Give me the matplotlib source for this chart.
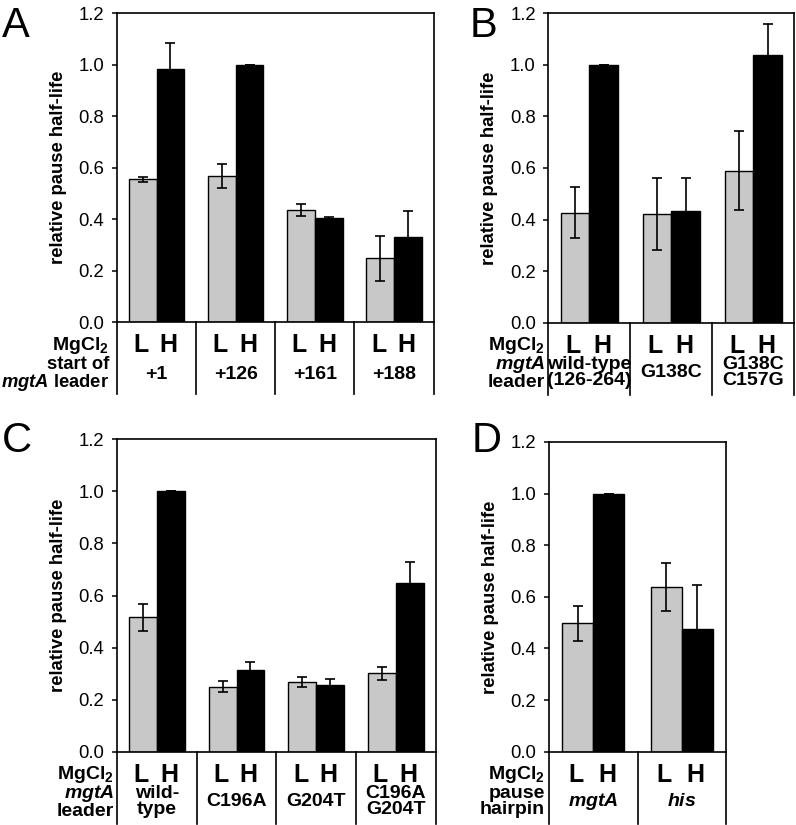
import matplotlib
matplotlib.use("Agg")
from matplotlib import pyplot as plt
import matplotlib.transforms as mtransforms
import numpy as np

plt.rcParams['font.family'] = ['Liberation Sans', 'DejaVu Sans']
plt.rcParams['mathtext.fontset'] = 'custom'
plt.rcParams['mathtext.rm'] = 'Liberation Sans'
plt.rcParams['mathtext.it'] = 'Liberation Sans:italic'
plt.rcParams['mathtext.bf'] = 'Liberation Sans:bold'
plt.rcParams['mathtext.bfit'] = 'Liberation Sans:bold:italic'

# panel A
a_groups = ["+1", "+126", "+161", "+188"]
a_low = [0.555, 0.568, 0.437, 0.248]
a_low_err = [0.011, 0.047, 0.024, 0.086]
a_high = [0.984, 1.0, 0.406, 0.333]
a_high_err = [0.102, 0.0, 0.003, 0.100]

# panel B
b_groups = ["wild-type\n(126-264)", "G138C", "G138C\nC157G"]
b_low = [0.427, 0.422, 0.589]
b_low_err = [0.098, 0.140, 0.153]
b_high = [1.0, 0.432, 1.039]
b_high_err = [0.0, 0.129, 0.119]

# panel C
c_groups = ["wild-\ntype", "C196A", "G204T", "C196A\nG204T"]
c_low = [0.516, 0.250, 0.269, 0.301]
c_low_err = [0.052, 0.022, 0.019, 0.026]
c_high = [1.0, 0.313, 0.257, 0.649]
c_high_err = [0.0, 0.033, 0.023, 0.081]

# panel D
d_groups = [r"$\mathbfit{mgtA}$", r"$\mathbfit{his}$"]
d_low = [0.497, 0.639]
d_low_err = [0.068, 0.093]
d_high = [1.0, 0.477]
d_high_err = [0.0, 0.169]

yticks = [0.0, 0.2, 0.4, 0.6, 0.8, 1.0, 1.2]

W, H = 796, 825
fig = plt.figure(figsize=(W / 100, H / 100), dpi=100)


def px_axes(left, top, right, bottom):
    return fig.add_axes([left / W, 1 - bottom / H, (right - left) / W, (bottom - top) / H])


def panel(ax, groups, low, low_err, high, high_err, row_label, lab_off_px, r2_px,
          row_fs=14):
    n = len(groups)
    x = np.arange(n)
    w = 0.35
    ekw = dict(ecolor='black', elinewidth=1.2, capsize=3.6, capthick=1.2)
    ax.bar(x - w / 2, low, w, yerr=low_err, color='#c8c8c8', edgecolor='black',
           linewidth=1.0, error_kw=ekw, zorder=2)
    ax.bar(x + w / 2, high, w, yerr=high_err, color='black', edgecolor='black',
           linewidth=1.0, error_kw=ekw, zorder=2)
    ax.set_xlim(-0.5, n - 0.5)
    ax.set_ylim(0, 1.2)
    ax.set_yticks(yticks)
    ax.set_yticklabels(["%.1f" % t for t in yticks], fontsize=13.3)
    ax.set_xticks([])
    ax.tick_params(axis='y', direction='out', length=3.6, width=1.1, pad=5.5)
    for s in ax.spines.values():
        s.set_linewidth(1.2)
    ax.set_ylabel("relative pause half-life", fontsize=13.3, fontweight='bold')
    bb = ax.get_position()
    wpx = bb.width * W
    hpx = bb.height * H
    ax.yaxis.set_label_coords(-50 / wpx, 0.5)

    trans = mtransforms.blended_transform_factory(ax.transData, ax.transAxes)
    r1 = -23 / hpx
    r2 = -r2_px / hpx
    # separators for the label table
    for b in np.arange(n + 1) - 0.5:
        ax.plot([b, b], [0, -72 / hpx], color='black', lw=1.2, transform=trans,
                clip_on=False)
    for i in range(n):
        ax.text(i - w / 2 - 0.02, r1, "L", transform=trans, ha='center', va='center',
                fontsize=18, fontweight='bold')
        ax.text(i + w / 2 - 0.02, r1, "H", transform=trans, ha='center', va='center',
                fontsize=18, fontweight='bold')
        ax.text(i, r2, groups[i], transform=trans, ha='center', va='center',
                fontsize=14, fontweight='bold', linespacing=0.9)
    lx = -lab_off_px / wpx
    ax.text(lx, r1, r"MgCl$_\mathbf{2}$", transform=ax.transAxes, ha='right',
            va='center', fontsize=14, fontweight='bold')
    ax.text(lx, r2, row_label, transform=ax.transAxes, ha='right',
            va='center', fontsize=row_fs, fontweight='bold', linespacing=0.9)


axA = px_axes(117, 13.3, 433.5, 322.3)
panel(axA, a_groups, a_low, a_low_err, a_high, a_high_err,
      "start of\n" + r"$\mathbfit{mgtA}$" + " leader", 8, 52, row_fs=13.2)
axB = px_axes(548.3, 13.3, 794.3, 322.7)
panel(axB, b_groups, b_low, b_low_err, b_high, b_high_err,
      r"$\mathbfit{mgtA}$" + "\nleader", 3, 50)
axC = px_axes(117, 439.3, 435.7, 751.7)
panel(axC, c_groups, c_low, c_low_err, c_high, c_high_err,
      r"$\mathbfit{mgtA}$" + "\nleader", 3, 50)
axD = px_axes(549, 442, 726, 751.7)
panel(axD, d_groups, d_low, d_low_err, d_high, d_high_err,
      "pause\nhairpin", 4, 50)

for letter, xp, yp in [("A", 2, 37), ("B", 470, 37), ("C", 2, 452), ("D", 472, 452)]:
    fig.text(xp / W, 1 - yp / H, letter, fontsize=30, ha='left', va='baseline')

fig.savefig("out.png", dpi=100)
